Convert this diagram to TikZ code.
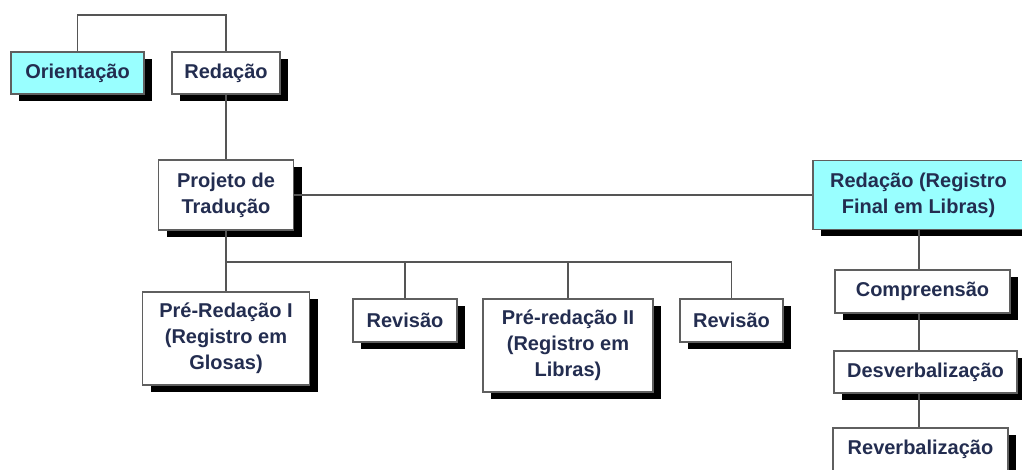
\documentclass[tikz,border=0pt]{standalone}
\usepackage{fontspec}
\setmainfont{Liberation Sans}
\usetikzlibrary{shadows}
\definecolor{txtcol}{RGB}{35,45,80}
\definecolor{boxcyan}{RGB}{153,255,255}
\definecolor{linecol}{RGB}{85,85,85}
\definecolor{bordercol}{RGB}{95,95,95}
\tikzset{
  orgbox/.style={draw=bordercol, line width=1.4pt, fill=white, inner sep=0pt,
    align=center, text=txtcol,
    font=\fontsize{20}{26}\selectfont\bfseries,
    general shadow={fill=black, shadow xshift=8pt, shadow yshift=-7pt}},
  cyanbox/.style={orgbox, fill=boxcyan},
  link/.style={draw=linecol, line width=1.8pt}
}
\begin{document}
\begin{tikzpicture}[x=1pt,y=-1pt]
\useasboundingbox (0,0) rectangle (1022,470);
\clip (0,0) rectangle (1022,470);
\fill[white] (0,0) rectangle (1022,470);

% nodes
\node[cyanbox, minimum width=133pt, minimum height=42pt] (ori) at (77.5,73) {Orientação};
\node[orgbox, minimum width=108pt, minimum height=42pt] (red) at (226,73) {Redação};
\node[orgbox, minimum width=135pt, minimum height=70pt] (proj) at (226,195) {Projeto de\\Tradução};
\node[cyanbox, minimum width=211pt, minimum height=69pt] (final) at (918.5,195) {Redação (Registro\\Final em Libras)};
\node[orgbox, minimum width=167pt, minimum height=93pt] (pre1) at (226,338.5) {Pré-Redação I\\(Registro em\\Glosas)};
\node[orgbox, minimum width=104pt, minimum height=43pt] (rev1) at (405,320.5) {Revisão};
\node[orgbox, minimum width=170pt, minimum height=93pt] (pre2) at (568,345.5) {Pré-redação II\\(Registro em\\Libras)};
\node[orgbox, minimum width=103pt, minimum height=43pt] (rev2) at (731.5,320.5) {Revisão};
\node[orgbox, minimum width=175pt, minimum height=43pt] (comp) at (922.5,291.5) {Compreensão};
\node[orgbox, minimum width=183pt, minimum height=42pt] (desv) at (925.5,372) {Desverbalização};
\node[orgbox, minimum width=175pt, minimum height=43pt] (reverb) at (920.5,449.5) {Reverbalização};

% helper coordinates
\coordinate (top) at (150,15);
\coordinate (bus) at (226,262);
\coordinate (vx) at (919,0);

% connectors
\draw[link] (ori.north) |- (top) -| (red.north);
\draw[link] (red.south) -- (proj.north);
\draw[link] (proj.east) -- (final.west);
\draw[link] (proj.south) -- (pre1.north);
\draw[link] (bus) -| (rev1.north);
\draw[link] (bus) -| (pre2.north);
\draw[link] (bus) -| (rev2.north);
\draw[link] (vx |- final.south) -- (vx |- comp.north);
\draw[link] (vx |- comp.south) -- (vx |- desv.north);
\draw[link] (vx |- desv.south) -- (vx |- reverb.north);
\end{tikzpicture}
\end{document}
